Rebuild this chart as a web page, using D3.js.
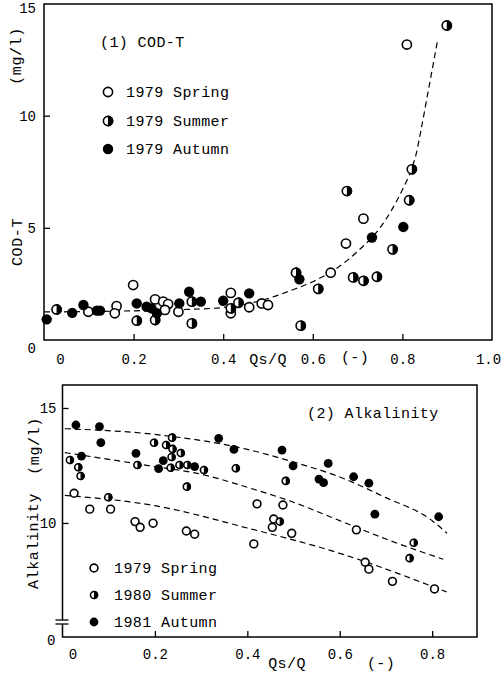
<!DOCTYPE html>
<html>
<head>
<meta charset="utf-8">
<script src="https://cdn.jsdelivr.net/npm/d3@7"></script>
<style>
  body { margin: 0; background: #fff; }
  text { font-family: "Liberation Mono", "DejaVu Sans Mono", monospace; fill: #000; }
</style>
</head>
<body>
<script>
'use strict';

// ---- (1) COD-T data, x = Qs/Q, y = mg/l ----
const codSpringX = [0.099, 0.162, 0.158, 0.199, 0.248, 0.266, 0.277, 0.27, 0.30, 0.417, 0.417, 0.458, 0.486, 0.50, 0.64, 0.674, 0.713, 0.81];
const codSpringY = [1.26, 1.51, 1.19, 2.45, 1.81, 1.71, 1.60, 1.34, 1.26, 2.10, 1.19, 1.46, 1.63, 1.56, 3.0, 4.3, 5.41, 13.17];
const codSummerX = [0.028, 0.207, 0.248, 0.33, 0.33, 0.417, 0.434, 0.5625, 0.573, 0.612, 0.676, 0.69, 0.713, 0.743, 0.778, 0.815, 0.821, 0.899];
const codSummerY = [1.36, 0.86, 0.89, 1.71, 0.74, 1.41, 1.66, 3.0, 0.64, 2.28, 6.64, 2.79, 2.64, 2.82, 4.04, 6.23, 7.61, 14.02];
const codAutumnX = [0.006, 0.063, 0.088, 0.118, 0.125, 0.207, 0.229, 0.24, 0.252, 0.302, 0.324, 0.35, 0.40, 0.458, 0.57, 0.732, 0.802];
const codAutumnY = [0.92, 1.21, 1.56, 1.31, 1.31, 1.63, 1.48, 1.41, 1.19, 1.63, 2.15, 1.71, 1.75, 2.08, 2.71, 4.57, 5.04];
// dashed trend line
const codCurveX = [0, 0.1, 0.2, 0.3, 0.4, 0.45, 0.5, 0.55, 0.6, 0.65, 0.7, 0.75, 0.8, 0.82, 0.832, 0.84, 0.854, 0.878];
const codCurveY = [1.25, 1.27, 1.3, 1.35, 1.45, 1.6, 1.85, 2.2, 2.6, 3.15, 3.95, 5.0, 6.7, 7.6, 8.4, 9.2, 10.7, 13.3];

// ---- (2) Alkalinity data ----
const alkSpringX = [0.025, 0.059, 0.104, 0.157, 0.168, 0.196, 0.268, 0.286, 0.414, 0.421, 0.457, 0.454, 0.477, 0.496, 0.636, 0.655, 0.663, 0.714, 0.805];
const alkSpringY = [11.29, 10.6, 10.6, 10.06, 9.81, 9.99, 9.65, 9.51, 9.09, 10.83, 10.17, 9.81, 10.78, 9.55, 9.7, 8.29, 7.99, 7.46, 7.13];
const alkSummerX = [0.016, 0.034, 0.039, 0.099, 0.162, 0.198, 0.224, 0.237, 0.238, 0.256, 0.236, 0.234, 0.253, 0.27, 0.306, 0.269, 0.375, 0.483, 0.47, 0.76, 0.751];
const alkSummerY = [12.74, 12.42, 12.04, 11.12, 12.52, 13.49, 13.39, 13.71, 13.22, 13.04, 12.87, 12.4, 12.52, 12.52, 12.3, 11.58, 12.38, 11.83, 10.06, 9.14, 8.47];
const alkAutumnX = [0.029, 0.08, 0.083, 0.041, 0.159, 0.218, 0.208, 0.286, 0.338, 0.371, 0.475, 0.499, 0.575, 0.555, 0.565, 0.63, 0.663, 0.676, 0.814];
const alkAutumnY = [14.26, 14.19, 13.49, 12.91, 13.03, 12.71, 12.36, 12.45, 13.68, 13.2, 13.17, 12.48, 12.59, 11.91, 11.75, 12.01, 11.73, 10.38, 10.27];
const alkLineAX = [0.005, 0.2, 0.4, 0.5, 0.6, 0.7, 0.8, 0.832];
const alkLineAY = [14.1, 13.85, 13.2, 12.65, 12.0, 11.1, 10.1, 9.55];
const alkLineSuX = [0.005, 0.2, 0.3, 0.4, 0.5, 0.6, 0.7, 0.824];
const alkLineSuY = [13.06, 12.45, 12.12, 11.55, 10.9, 10.1, 9.3, 8.42];
const alkLineSpX = [0.005, 0.2, 0.4, 0.6, 0.831];
const alkLineSpY = [11.2, 10.75, 9.78, 8.68, 7.0];

// tick labels
const codXTicks = [0, 0.2, 0.4, 0.6, 0.8, 1.0];
const codYTicks = [0, 5, 10, 15];
const alkXTicks = [0, 0.2, 0.4, 0.6, 0.8];
const alkYTicks = [10, 15];

const codLegend = ['1979 Spring', '1979 Summer', '1979 Autumn'];
const alkLegend = ['1979 Spring', '1980 Summer', '1981 Autumn'];

(function() {

  const top = { left: 44, right: 492, top: 4, bottom: 340 };
  const bot = { left: 62.5, right: 477, top: 385, bottom: 637 };

  window.onload = function() {
    const svg = d3.select('body').append('svg')
      .attr('width', 503)
      .attr('height', 673);

    drawCod(svg);
    drawAlk(svg);
  };

  // zip two arrays into point objects
  function pts(xs, ys) {
    return xs.map((x, i) => ({ x: x, y: ys[i] }));
  }

  // draw a marker: kind = open | half | full
  function marker(g, cx, cy, kind, r) {
    if (kind === 'full') {
      g.append('circle').attr('cx', cx).attr('cy', cy).attr('r', r + 0.6).attr('fill', '#000');
      return;
    }
    g.append('circle').attr('cx', cx).attr('cy', cy).attr('r', r)
      .attr('fill', '#fff').attr('stroke', '#000').attr('stroke-width', 1.6);
    if (kind === 'half') {
      g.append('path')
        .attr('transform', 'translate(' + cx + ',' + cy + ')')
        .attr('d', d3.arc()({ innerRadius: 0, outerRadius: r + 0.8, startAngle: 0, endAngle: Math.PI }))
        .attr('fill', '#000');
    }
  }

  function plotPoints(g, data, xScale, yScale, kind, r) {
    data.forEach((d) => marker(g, xScale(d.x), yScale(d.y), kind, r));
  }

  function dashed(g, data, xScale, yScale) {
    g.append('path')
      .datum(data)
      .attr('fill', 'none')
      .attr('stroke', '#000')
      .attr('stroke-width', 1.2)
      .attr('stroke-dasharray', '6,4')
      .attr('d', d3.line()
        .x((d) => xScale(d.x))
        .y((d) => yScale(d.y))
        .curve(d3.curveMonotoneX));
  }

  function styleAxis(axisG) {
    axisG.select('.domain').remove();
    axisG.selectAll('line').attr('stroke', '#000').attr('stroke-width', 1.3);
    axisG.selectAll('text').style('font-family', '"Liberation Mono", monospace').style('font-size', '14px').attr('fill', '#000');
  }

  function drawCod(svg) {
    const xScale = d3.scaleLinear().domain([0, 1]).range([top.left, top.right]);
    const yScale = d3.scaleLinear().domain([0, 15]).range([top.bottom, 3.5]);

    // frame
    svg.append('rect')
      .attr('x', top.left).attr('y', top.top)
      .attr('width', top.right - top.left).attr('height', top.bottom - top.top)
      .attr('fill', 'none').attr('stroke', '#000').attr('stroke-width', 1.5);

    const xAxis = svg.append('g')
      .attr('transform', 'translate(0,' + top.bottom + ')')
      .call(d3.axisBottom(xScale).tickValues(codXTicks).tickSize(-6).tickPadding(14)
        .tickFormat(d3.format('.1f')));
    xAxis.selectAll('.tick').filter((d) => d === 0).select('text').text('0').attr('dx', 16);
    xAxis.selectAll('.tick').filter((d) => d === 1).select('text').attr('dx', -4);
    xAxis.selectAll('.tick').filter((d) => d === 0 || d === 1).select('line').remove();
    styleAxis(xAxis);

    const yAxis = svg.append('g')
      .attr('transform', 'translate(' + top.left + ',0)')
      .call(d3.axisLeft(yScale).tickValues(codYTicks).tickSize(-6).tickPadding(8));
    yAxis.selectAll('.tick').filter((d) => d === 0).select('text').attr('dy', '0.9em');
    yAxis.selectAll('.tick').filter((d) => d === 15).select('text').attr('dy', '0.65em');
    yAxis.selectAll('.tick').filter((d) => d === 0 || d === 15).select('line').remove();
    styleAxis(yAxis);

    const g = svg.append('g');
    dashed(g, pts(codCurveX, codCurveY), xScale, yScale);
    plotPoints(g, pts(codSpringX, codSpringY), xScale, yScale, 'open', 4.6);
    plotPoints(g, pts(codSummerX, codSummerY), xScale, yScale, 'half', 4.6);
    plotPoints(g, pts(codAutumnX, codAutumnY), xScale, yScale, 'full', 4.6);

    // title + legend
    label(svg, 100, 47, '(1) COD-T');
    const kinds = ['open', 'half', 'full'];
    const ly = [92, 121, 149];
    codLegend.forEach((t, i) => {
      marker(svg, 108, ly[i], kinds[i], 4.6);
      label(svg, 126, ly[i] + 5, t);
    });

    // axis titles
    rotLabel(svg, 21, 56, '(mg/l)');
    rotLabel(svg, 22, 242, 'COD-T');
    label(svg, 268, 364, 'Qs/Q', 'middle');
    label(svg, 355, 362, '(-)', 'middle');
  }

  function drawAlk(svg) {
    const xScale = d3.scaleLinear().domain([0, 0.897]).range([bot.left, bot.right]);
    const yScale = d3.scaleLinear().domain([5.04, 16]).range([bot.bottom, bot.top]);

    svg.append('rect')
      .attr('x', bot.left).attr('y', bot.top)
      .attr('width', bot.right - bot.left).attr('height', bot.bottom - bot.top)
      .attr('fill', 'none').attr('stroke', '#000').attr('stroke-width', 1.5);

    // axis break marks near the bottom of the y axis
    svg.append('rect').attr('x', bot.left - 2).attr('y', 620).attr('width', 4).attr('height', 4).attr('fill', '#fff');
    [620, 624].forEach((y) => {
      svg.append('line')
        .attr('x1', bot.left - 7).attr('x2', bot.left + 6)
        .attr('y1', y).attr('y2', y)
        .attr('stroke', '#000').attr('stroke-width', 1.3);
    });

    const xAxis = svg.append('g')
      .attr('transform', 'translate(0,' + bot.bottom + ')')
      .call(d3.axisBottom(xScale).tickValues(alkXTicks).tickSize(-6).tickPadding(12)
        .tickFormat(d3.format('.1f')));
    xAxis.selectAll('.tick').filter((d) => d === 0).select('text').text('0').attr('dx', 10);
    xAxis.selectAll('.tick').filter((d) => d === 0).select('line').remove();
    styleAxis(xAxis);

    const yAxis = svg.append('g')
      .attr('transform', 'translate(' + bot.left + ',0)')
      .call(d3.axisLeft(yScale).tickValues(alkYTicks).tickSize(-6).tickPadding(6));
    styleAxis(yAxis);
    // broken axis: its base is labelled 0
    yAxis.append('text')
      .attr('x', -7).attr('y', yScale(yScale.domain()[0]) + 8)
      .attr('text-anchor', 'end')
      .style('font-size', '14px')
      .text('0');

    const g = svg.append('g');
    dashed(g, pts(alkLineAX, alkLineAY), xScale, yScale);
    dashed(g, pts(alkLineSuX, alkLineSuY), xScale, yScale);
    dashed(g, pts(alkLineSpX, alkLineSpY), xScale, yScale);
    plotPoints(g, pts(alkSpringX, alkSpringY), xScale, yScale, 'open', 3.9);
    plotPoints(g, pts(alkSummerX, alkSummerY), xScale, yScale, 'half', 3.5);
    plotPoints(g, pts(alkAutumnX, alkAutumnY), xScale, yScale, 'full', 3.8);

    label(svg, 307, 418, '(2) Alkalinity');
    const kinds = ['open', 'half', 'full'];
    const sizes = [3.9, 3.5, 3.8];
    const ly = [568, 595, 622];
    alkLegend.forEach((t, i) => {
      marker(svg, 94, ly[i], kinds[i], sizes[i]);
      label(svg, 114, ly[i] + 5, t);
    });

    rotLabel(svg, 39, 446, '(mg/l)');
    rotLabel(svg, 38, 541, 'Alkalinity');
    label(svg, 287, 668, 'Qs/Q', 'middle');
    label(svg, 381, 668, '(-)', 'middle');
  }

  function label(svg, x, y, t, anchor) {
    svg.append('text')
      .attr('x', x).attr('y', y)
      .attr('text-anchor', anchor || 'start')
      .style('font-size', '15px')
      .style('letter-spacing', '0.4px')
      .text(t);
  }

  function rotLabel(svg, x, y, t) {
    svg.append('text')
      .attr('transform', 'translate(' + x + ',' + y + ') rotate(-90)')
      .attr('text-anchor', 'middle')
      .style('font-size', '15px')
      .style('letter-spacing', '0.6px')
      .text(t);
  }

})();
</script>
</body>
</html>
